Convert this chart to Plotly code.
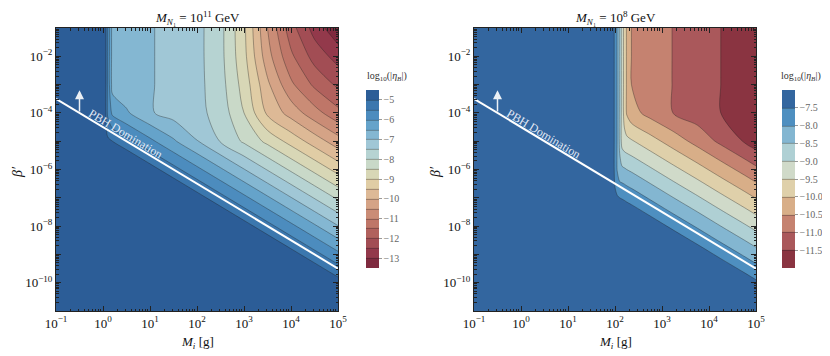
import numpy as np
import plotly.graph_objects as go

# --- data (log10 units) ---

# grid nodes: log10(M_i / g) and log10(beta')
mass_left = [-1, 0, 0.1, 0.2, 0.5, 1, 1.5, 2, 2.5, 3, 3.5, 4, 4.5, 5]
mass_right = [-1, 0, 1, 1.5, 1.95, 2.0, 2.05, 2.1, 2.15, 2.2, 2.25, 2.35,
              2.75, 3.25, 3.75, 4.25, 4.75, 5]
beta_nodes = [-11, -10, -9, -8, -7, -6, -5, -4, -3, -2, -1]

# log10|eta_B| for M_N1 = 1e11 GeV, one row per beta node (bottom -> top)
eta_left = [
    [-3, -3, -3, -3, -3, -3, -3, -3, -3, -3, -3, -3, -3.13, -3.68],
    [-3, -3, -3, -3, -3, -3, -3, -3, -3, -3, -3.13, -3.68, -4.23, -4.78],
    [-3, -3, -3, -3, -3, -3, -3, -3, -3.13, -3.68, -4.23, -4.78, -5.33, -5.88],
    [-3, -3, -3, -3, -3, -3, -3.13, -3.68, -4.23, -4.78, -5.33, -5.88, -6.43, -6.98],
    [-3, -3, -3, -3, -3.13, -3.68, -4.23, -4.78, -5.33, -5.88, -6.43, -6.98, -7.53, -8.08],
    [-3, -3.68, -3.79, -3.9, -4.23, -4.78, -5.33, -5.88, -6.43, -6.98, -7.53, -8.08, -8.63, -9.18],
    [-3.68, -4.1, -4.89, -5.0, -5.33, -5.88, -6.43, -6.98, -7.53, -8.08, -8.63, -9.18, -9.73, -10.28],
    [-4.0, -4.1, -5.6, -6.1, -6.43, -6.95, -7.2, -7.35, -7.7, -8.5, -9.6, -10.2, -10.8, -11.35],
    [-4.0, -4.1, -5.6, -6.7, -6.85, -6.95, -7.2, -7.35, -7.8, -8.7, -9.9, -10.9, -11.6, -12.1],
    [-4.0, -4.1, -5.6, -6.7, -6.85, -6.95, -7.2, -7.35, -7.85, -8.85, -10.3, -11.4, -12.2, -12.7],
    [-4.0, -4.1, -5.6, -6.7, -6.85, -6.95, -7.2, -7.35, -7.85, -8.9, -10.5, -11.8, -12.7, -13.4],
]

# log10|eta_B| for M_N1 = 1e8 GeV
eta_right = [
    [-5.5, -5.5, -5.5, -5.5, -5.5, -5.5, -5.5, -5.5, -5.5, -5.5, -5.5, -5.5, -5.5, -5.5, -5.5, -5.89, -6.32, -6.54],
    [-5.5, -5.5, -5.5, -5.5, -5.5, -5.5, -5.5, -5.5, -5.5, -5.5, -5.5, -5.5, -5.5, -5.89, -6.32, -6.76, -7.19, -7.41],
    [-5.5, -5.5, -5.5, -5.5, -5.63, -5.67, -5.71, -5.76, -5.8, -5.84, -5.89, -5.97, -6.32, -6.76, -7.19, -7.63, -8.06, -8.28],
    [-5.5, -5.5, -5.67, -6.11, -6.5, -6.54, -6.58, -6.63, -6.67, -6.71, -6.76, -6.84, -7.19, -7.63, -8.06, -8.5, -8.93, -9.15],
    [-5.5, -5.67, -6.54, -6.98, -7.2, -7.41, -7.45, -7.5, -7.54, -7.58, -7.63, -7.71, -8.06, -8.5, -8.93, -9.37, -9.8, -10.02],
    [-5.67, -6.54, -7.0, -7.0, -7.2, -7.65, -8.05, -8.37, -8.41, -8.45, -8.5, -8.58, -8.93, -9.37, -9.8, -10.24, -10.67, -10.89],
    [-6.54, -7.0, -7.0, -7.0, -7.2, -7.65, -8.05, -8.6, -9.2, -9.32, -9.37, -9.45, -9.8, -10.24, -10.67, -11.11, -11.54, -11.76],
    [-7.0, -7.0, -7.0, -7.0, -7.2, -7.65, -8.05, -8.6, -9.2, -9.7, -10.05, -10.32, -10.67, -11.02, -11.25, -11.5, -11.7, -11.8],
    [-7.0, -7.0, -7.0, -7.0, -7.2, -7.65, -8.05, -8.6, -9.2, -9.7, -10.05, -10.5, -10.75, -11.02, -11.25, -11.5, -11.7, -11.8],
    [-7.0, -7.0, -7.0, -7.0, -7.2, -7.65, -8.05, -8.6, -9.2, -9.7, -10.05, -10.5, -10.75, -11.02, -11.25, -11.5, -11.7, -11.8],
    [-7.0, -7.0, -7.0, -7.0, -7.2, -7.65, -8.05, -8.6, -9.2, -9.7, -10.05, -10.5, -10.75, -11.02, -11.25, -11.5, -11.7, -11.8],
]

# PBH domination boundary (end points, log10 units)
pbh_mass = [-1, 5]
pbh_beta = [-3.5, -9.5]

# band colours, lowest value first
colors_left = ['#7f2a3f', '#93394b', '#a24d54', '#b1615d', '#bf7668', '#ca8c76',
               '#d5a386', '#ddb996', '#e0cda5', '#d8d7b6', '#c9d9c8', '#b6d3d2',
               '#a0c7d6', '#84b7d2', '#65a3ca', '#4c8cbe', '#3b77ae', '#2c5d97']
colors_right = ['#8a3441', '#aa585b', '#c58270', '#d8ae88', '#dfd0aa', '#d0dac9',
                '#afd0d4', '#83b6d1', '#4e8fc0', '#33669f']

FONT = 'Liberation Serif'
PAGE = 8                      # default body margin of the html page
W, H = 830 - PAGE, 356 - PAGE


def px(x):
    # screen x (pixels) -> paper fraction
    return (x - PAGE) / W


def py(y):
    # screen y (pixels) -> paper fraction
    return 1 - (y - PAGE) / H


def scale(colors):
    n = len(colors) - 1
    return [[i / n, c] for i, c in enumerate(colors)]


def contour(x, z, colors, start, end, zmin, zmax, cb_x, ticks, fmt, xa, ya):
    return go.Contour(
        x=x, y=beta_nodes, z=z, xaxis=xa, yaxis=ya,
        colorscale=scale(colors), zmin=zmin, zmax=zmax,
        contours=dict(start=start, end=end, size=0.5, coloring='fill'),
        line=dict(color='rgba(30,30,30,0.5)', width=0.7, smoothing=0.85),
        colorbar=dict(x=px(cb_x), xanchor='left', xpad=0, ypad=0,
                      y=py(179), yanchor='middle', len=178 / H,
                      thickness=13, outlinewidth=0,
                      tickmode='array', tickvals=ticks, tickformat=fmt,
                      ticks='outside', ticklen=3, tickcolor='#999',
                      tickfont=dict(family=FONT, size=10, color='#666')),
        hoverinfo='skip',
    )


fig = go.Figure()
fig.add_trace(contour(mass_left, eta_left, colors_left, -13, -5, -13.5, -4.5, 366,
                      list(range(-13, -4)), '', 'x', 'y'))
fig.add_trace(contour(mass_right, eta_right, colors_right, -11.5, -7.5, -12, -7, 782,
                      [-11.5, -11, -10.5, -10, -9.5, -9, -8.5, -8, -7.5], '.1f', 'x2', 'y2'))

for xa, ya in [('x', 'y'), ('x2', 'y2')]:
    fig.add_trace(go.Scatter(x=pbh_mass, y=pbh_beta, xaxis=xa, yaxis=ya, mode='lines',
                             line=dict(color='white', width=2), hoverinfo='skip',
                             showlegend=False))


def sup(n):
    return '10<sup>%s%d</sup>' % ('\u2212' if n < 0 else '', abs(n))


xmajor = list(range(-1, 6))
ymajor = list(range(-11, 0))
xminor = [n + np.log10(k) for n in range(-1, 5) for k in range(2, 10)]
yminor = [n + np.log10(k) for n in range(-11, -1) for k in range(2, 10)]

axis_common = dict(showgrid=False, zeroline=False, showline=True, linecolor='#222',
                   linewidth=1, mirror='allticks', ticks='inside', ticklen=5,
                   tickcolor='#222', tickwidth=1,
                   tickfont=dict(family=FONT, size=13, color='#111'))
xaxis = dict(axis_common, range=[-1, 5], tickmode='array', tickvals=xmajor,
             ticktext=[sup(n) for n in xmajor],
             minor=dict(tickvals=xminor, ticks='inside', ticklen=2.5, tickcolor='#222'))
yaxis = dict(axis_common, range=[-11, -1], tickmode='array', tickvals=ymajor,
             ticktext=[sup(n) if n % 2 == 0 else '' for n in ymajor],
             minor=dict(tickvals=yminor, ticks='inside', ticklen=2.5, tickcolor='#222'))

dom_y = [py(311), py(28)]
fig.update_layout(
    width=W, height=H, margin=dict(l=0, r=0, t=0, b=0, autoexpand=False),
    paper_bgcolor='white', plot_bgcolor='white', showlegend=False,
    font=dict(family=FONT, color='#111'),
    xaxis=dict(xaxis, domain=[px(56), px(338)], anchor='y'),
    yaxis=dict(yaxis, domain=dom_y, anchor='x'),
    xaxis2=dict(xaxis, domain=[px(474), px(756)], anchor='y2'),
    yaxis2=dict(yaxis, domain=dom_y, anchor='x2'),
)


def label(x, y, text, size, color='#111', angle=0):
    fig.add_annotation(xref='paper', yref='paper', x=px(x), y=py(y), text=text,
                       xanchor='center', yanchor='middle', showarrow=False,
                       textangle=angle, font=dict(size=size, color=color))


for txt, cx in [('10<sup>11</sup>', 197), ('10<sup>8</sup>', 615)]:
    label(cx, 18, '<i>M</i><sub><i>N</i>\u2081</sub> = ' + txt + ' GeV', 13)
for cx in [197, 615]:
    label(cx, 342, '<i>M<sub>i</sub></i> [g]', 13)
for cx in [17, 435]:
    label(cx, 172, '<i>\u03b2\u2032</i>', 14, angle=-90)
for cx in [387, 801]:
    label(cx, 76, 'log<sub>10</sub>(|<i>\u03b7<sub>B</sub></i>|)', 10, color='#333')

for xa, ya in [('x', 'y'), ('x2', 'y2')]:
    fig.add_annotation(xref=xa, yref=ya, axref=xa, ayref=ya, x=-0.5, y=-3.2,
                       ax=-0.5, ay=-4.0, text='', showarrow=True, arrowhead=2,
                       arrowsize=1.2, arrowwidth=1.5, arrowcolor='rgba(255,255,255,0.9)')
    fig.add_annotation(xref=xa, yref=ya, x=0.49, y=-4.73, text='PBH Domination',
                       textangle=31, showarrow=False,
                       font=dict(size=12, color='rgba(235,240,250,0.95)'))

fig.write_html("out.html")
